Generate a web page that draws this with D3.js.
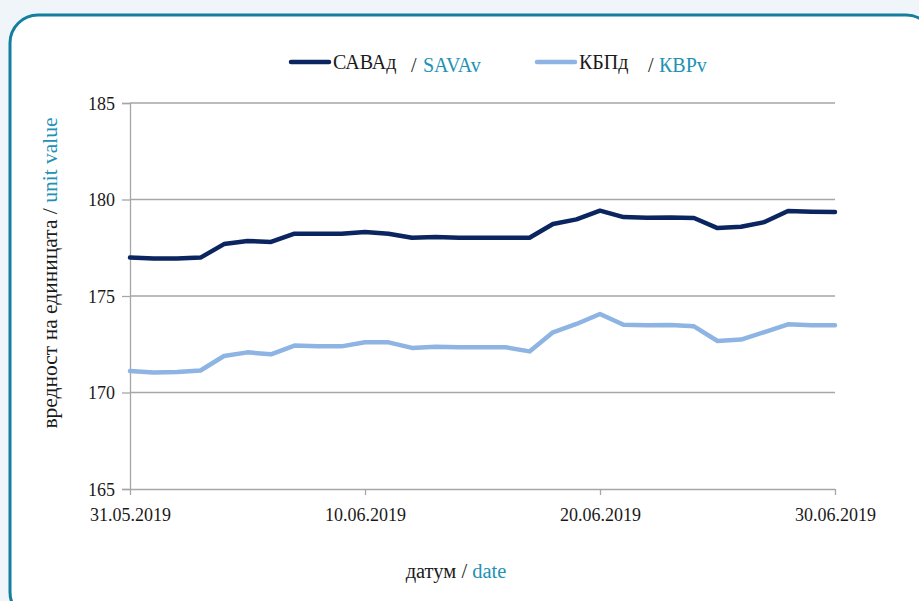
<!DOCTYPE html>
<html>
<head>
<meta charset="utf-8">
<script src="https://cdn.jsdelivr.net/npm/d3@7"></script>
<style>
  html, body { margin: 0; padding: 0; background: #eff5f9; overflow: hidden; }
  svg, svg text { font-family: "Liberation Serif", serif !important; }
</style>
</head>
<body>
<script>
// data
const startDate = new Date(2019, 4, 31)
const dates = d3.range(31).map(i => d3.timeDay.offset(startDate, i))
const savaValues = [
  176.99, 176.94, 176.94, 176.99, 177.69, 177.85, 177.80, 178.23, 178.23, 178.22,
  178.32, 178.23, 178.02, 178.06, 178.02, 178.02, 178.02, 178.02, 178.73, 178.97,
  179.42, 179.09, 179.06, 179.07, 179.04, 178.52, 178.59, 178.83, 179.40, 179.37, 179.35
]
const kbpValues = [
  171.11, 171.04, 171.06, 171.14, 171.89, 172.08, 171.98, 172.43, 172.39, 172.39,
  172.60, 172.60, 172.31, 172.37, 172.34, 172.34, 172.34, 172.13, 173.12, 173.55,
  174.07, 173.51, 173.48, 173.50, 173.43, 172.67, 172.74, 173.13, 173.53, 173.48, 173.48
]
const yTicks = [165, 170, 175, 180, 185]
const xTicks = [0, 10, 20, 30].map(i => dates[i])

const W = 919, H = 601
const teal = '#2192b3'
const ink = '#1a1a1a'
const svg = d3.select('body').append('svg').attr('width', W).attr('height', H)

// frame
svg.append('rect')
  .attr('x', 10).attr('y', 15).attr('width', 924).attr('height', 605)
  .attr('rx', 28).attr('ry', 28)
  .attr('fill', '#fff').attr('stroke', '#137f9f').attr('stroke-width', 3)

const x = d3.scaleTime().domain([dates[0], dates[30]]).range([130, 835])
const y = d3.scaleLinear().domain([165, 185]).range([489, 103])

// gridlines
svg.append('g').selectAll('line').data(yTicks.slice(1)).join('line')
  .attr('x1', 130).attr('x2', 835)
  .attr('y1', d => y(d)).attr('y2', d => y(d))
  .attr('stroke', '#a6a6a6').attr('stroke-width', 1.3)

// y axis
const yAxis = svg.append('g').attr('transform', 'translate(130,0)')
  .call(d3.axisLeft(y).tickValues(yTicks).tickSize(8).tickPadding(7).tickFormat(d3.format('d')))
yAxis.attr('font-family', null).attr('font-size', 18)
yAxis.select('.domain').attr('stroke', '#a6a6a6').attr('stroke-width', 1.3)
yAxis.selectAll('.tick line').attr('stroke', '#a6a6a6').attr('stroke-width', 1.3)
yAxis.selectAll('.tick text').attr('fill', ink).attr('dy', '0.36em')

// x axis
const xAxis = svg.append('g').attr('transform', `translate(0,${y(165)})`)
  .call(d3.axisBottom(x).tickValues(xTicks).tickSize(6).tickPadding(13)
    .tickFormat(d3.timeFormat('%d.%m.%Y')))
xAxis.attr('font-family', null).attr('font-size', 18)
xAxis.select('.domain').attr('stroke', '#a6a6a6').attr('stroke-width', 1.3)
  .attr('d', `M130,0.5H835`)
xAxis.selectAll('.tick line').attr('stroke', '#a6a6a6').attr('stroke-width', 1.3)
xAxis.selectAll('.tick text').attr('fill', ink)

// lines
const line = vals => d3.line().x((d, i) => x(dates[i])).y(d => y(d))(vals)
svg.append('path').attr('d', line(kbpValues))
  .attr('fill', 'none').attr('stroke', '#8db4e2').attr('stroke-width', 4.5)
  .attr('stroke-linejoin', 'round').attr('stroke-linecap', 'round')
svg.append('path').attr('d', line(savaValues))
  .attr('fill', 'none').attr('stroke', '#0b2560').attr('stroke-width', 4.5)
  .attr('stroke-linejoin', 'round').attr('stroke-linecap', 'round')

// legend
const legend = [
  { color: '#0b2560', bg: 'САВАд', en: 'SAVAv', x: 289, slash: 411, enX: 423 },
  { color: '#8db4e2', bg: 'КБПд', en: 'КВРv', x: 535, slash: 648, enX: 659 }
]
legend.forEach(l => {
  svg.append('line').attr('x1', l.x + 2).attr('x2', l.x + 40).attr('y1', 62).attr('y2', 62)
    .attr('stroke', l.color).attr('stroke-width', 4.5).attr('stroke-linecap', 'round')
  svg.append('text').attr('x', l.x + 44).attr('y', 69).attr('font-size', 20).attr('fill', ink).text(l.bg)
  svg.append('text').attr('x', l.slash).attr('y', 72).attr('font-size', 20).attr('fill', ink).text('/')
  svg.append('text').attr('x', l.enX).attr('y', 72).attr('font-size', 20).attr('fill', teal).text(l.en)
})

// axis titles
const yt = svg.append('text').attr('transform', 'translate(57,273) rotate(-90)')
  .attr('text-anchor', 'middle').attr('font-size', 21.5).attr('fill', ink)
yt.append('tspan').text('вредност на единицата / ')
yt.append('tspan').attr('fill', teal).text('unit value')

const xt = svg.append('text').attr('x', 456).attr('y', 578)
  .attr('text-anchor', 'middle').attr('font-size', 20.5).attr('fill', ink)
xt.append('tspan').text('датум / ')
xt.append('tspan').attr('fill', teal).text('date')
</script>
</body>
</html>
